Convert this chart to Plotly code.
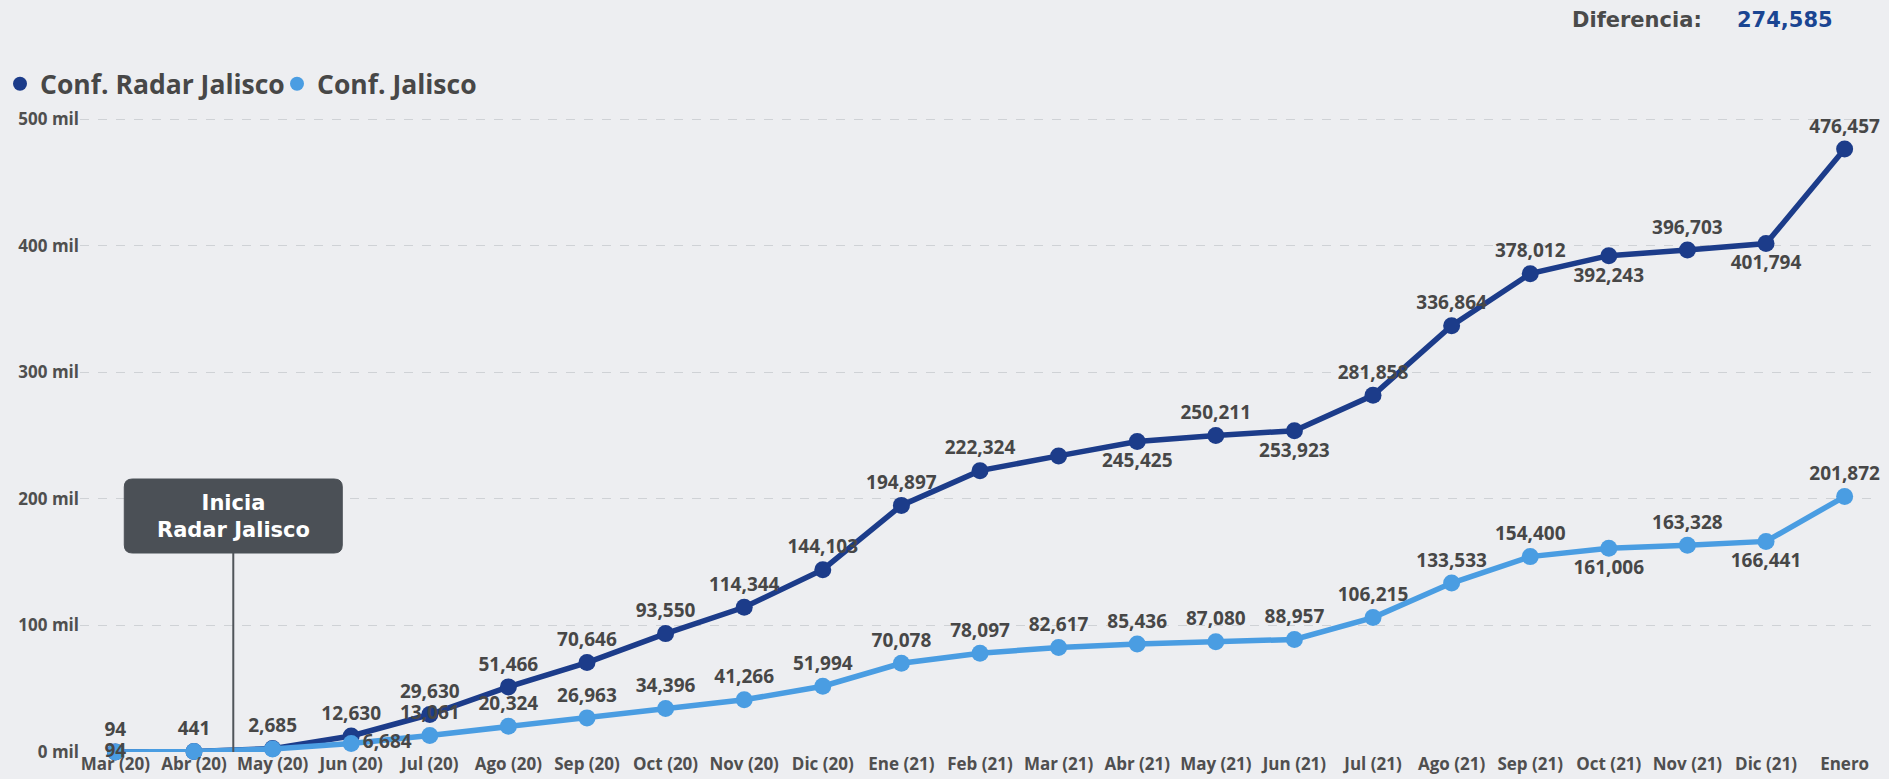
import plotly.graph_objects as go

# ---------------- data ----------------
meses = ["Mar (20)", "Abr (20)", "May (20)", "Jun (20)", "Jul (20)", "Ago (20)",
         "Sep (20)", "Oct (20)", "Nov (20)", "Dic (20)", "Ene (21)", "Feb (21)",
         "Mar (21)", "Abr (21)", "May (21)", "Jun (21)", "Jul (21)", "Ago (21)",
         "Sep (21)", "Oct (21)", "Nov (21)", "Dic (21)", "Enero"]

conf_radar = [94, 441, 2685, 12630, 29630, 51466, 70646, 93550, 114344, 144103,
              194897, 222324, 234000, 245425, 250211, 253923, 281858, 336864,
              378012, 392243, 396703, 401794, 476457]

conf_jalisco = [94, 441, 2400, 6684, 13061, 20324, 26963, 34396, 41266, 51994,
                70078, 78097, 82617, 85436, 87080, 88957, 106215, 133533,
                154400, 161006, 163328, 166441, 201872]

y_tickvals = [0, 100000, 200000, 300000, 400000, 500000]
y_ticktext = ["0 mil", "100 mil", "200 mil", "300 mil", "400 mil", "500 mil"]

# label visibility / placement (indices of points)
radar_hidden = [12]
radar_below = [13, 15, 19, 21]
jalisco_hidden = [1, 2]
jalisco_below = [19, 21]
jalisco_middle = [0]
jalisco_right = [3]

# ---------------- styling ----------------
C_DARK = "#1c3c8a"
C_LIGHT = "#4a9de2"
C_TEXT = "#474747"
BG = "#edeef1"
FONT = "Open Sans, Noto Sans, sans-serif"
HEAVY = "DejaVu Sans, Verdana, sans-serif"

radar_text = ["" if i in radar_hidden else f"{v:,}" for i, v in enumerate(conf_radar)]
radar_pos = ["bottom center" if i in radar_below else "top center" for i in range(len(conf_radar))]

jalisco_text = ["" if i in jalisco_hidden else f"{v:,}" for i, v in enumerate(conf_jalisco)]
jalisco_pos = []
for i in range(len(conf_jalisco)):
    if i in jalisco_below:
        jalisco_pos.append("bottom center")
    elif i in jalisco_middle:
        jalisco_pos.append("middle center")
    elif i in jalisco_right:
        jalisco_pos.append("middle right")
    else:
        jalisco_pos.append("top center")

fig = go.Figure()

fig.add_trace(go.Scatter(
    x=meses, y=conf_radar, mode="lines+markers+text", name="Conf. Radar Jalisco",
    line=dict(color=C_DARK, width=5.5), marker=dict(color=C_DARK, size=17),
    text=radar_text, textposition=radar_pos,
    textfont=dict(family=FONT, size=19, color=C_TEXT, weight="bold"),
    cliponaxis=False, showlegend=False, hoverinfo="x+y"))

fig.add_trace(go.Scatter(
    x=meses, y=conf_jalisco, mode="lines+markers+text", name="Conf. Jalisco",
    line=dict(color=C_LIGHT, width=5.5), marker=dict(color=C_LIGHT, size=17),
    text=jalisco_text, textposition=jalisco_pos,
    textfont=dict(family=FONT, size=19, color=C_TEXT, weight="bold"),
    cliponaxis=False, showlegend=False, hoverinfo="x+y"))

# legend entries (marker-only symbols)
for nm, col in [("Conf. Radar Jalisco", C_DARK), ("Conf. Jalisco", C_LIGHT)]:
    fig.add_trace(go.Scatter(x=[None], y=[None], mode="markers", name=nm,
                             marker=dict(color=col, size=14), showlegend=True))

# "Inicia Radar Jalisco" callout: stem + rounded box anchored between Abr and May
w, h, r = 218, 74, 8
box_bottom = 199
x0, x1 = -w / 2, w / 2
y0, y1 = box_bottom, box_bottom + h
path = (f"M {x0 + r},{y0} L {x1 - r},{y0} Q {x1},{y0} {x1},{y0 + r} "
        f"L {x1},{y1 - r} Q {x1},{y1} {x1 - r},{y1} L {x0 + r},{y1} "
        f"Q {x0},{y1} {x0},{y1 - r} L {x0},{y0 + r} Q {x0},{y0} {x0 + r},{y0} Z")
fig.add_shape(type="line", xref="x", yref="y", xsizemode="pixel", ysizemode="pixel",
              xanchor=1.5, yanchor=0, x0=0, x1=0, y0=0, y1=box_bottom,
              line=dict(color="#50555a", width=2))
fig.add_shape(type="path", xref="x", yref="y", xsizemode="pixel", ysizemode="pixel",
              xanchor=1.5, yanchor=0, path=path, fillcolor="#4b5056",
              line=dict(color="#4b5056", width=1))
fig.add_annotation(x=1.5, y=0, xref="x", yref="y", yshift=box_bottom + h / 2,
                   text="Inicia<br>Radar Jalisco", showarrow=False,
                   font=dict(family=HEAVY, size=21, color="white", weight="bold"),
                   align="center", yanchor="middle")

# Diferencia
diferencia = conf_radar[-1] - conf_jalisco[-1]
fig.add_annotation(x=(1570 - 80) / 1800, y=(752 - 20) / 658, xref="paper", yref="paper",
                   text="Diferencia:", showarrow=False, xanchor="left", yanchor="middle",
                   font=dict(family=HEAVY, size=21, color="#4a4a4a", weight="bold"))
fig.add_annotation(x=(1735 - 80) / 1800, y=(752 - 20) / 658, xref="paper", yref="paper",
                   text=f"{diferencia:,}", showarrow=False, xanchor="left", yanchor="middle",
                   font=dict(family=HEAVY, size=21, color="#1a4592", weight="bold"))

fig.update_layout(
    width=1889, height=779,
    margin=dict(l=80, r=9, t=94, b=27, autoexpand=False),
    paper_bgcolor=BG, plot_bgcolor=BG,
    legend=dict(orientation="h", xref="container", yref="container",
                x=0.0, y=1 - 84 / 779, xanchor="left", yanchor="middle",
                font=dict(family=FONT, size=26.5, color=C_TEXT, weight="bold"),
                bgcolor="rgba(0,0,0,0)", itemclick=False, tracegroupgap=0,
                entrywidth=232, entrywidthmode="pixels"),
    xaxis=dict(type="category", range=[-0.45, 22.45], showgrid=False, zeroline=False,
               showline=False, ticks="", automargin=False,
               tickfont=dict(family=FONT, size=17, color="#4f4f4f", weight="bold")),
    yaxis=dict(range=[0, 520000], tickvals=y_tickvals, ticktext=y_ticktext,
               showgrid=True, gridcolor="#cfd2d6", griddash="dash", gridwidth=1,
               zeroline=False, showline=False, ticks="", automargin=False,
               tickfont=dict(family=FONT, size=17, color="#4f4f4f", weight="bold")),
    showlegend=True,
)

fig.write_html(
    "out.html",
    config={"displayModeBar": False},
    post_script=("document.body.style.margin='0';"
                 "document.body.style.overflow='hidden';"
                 f"document.body.style.background='{BG}';"),
)
